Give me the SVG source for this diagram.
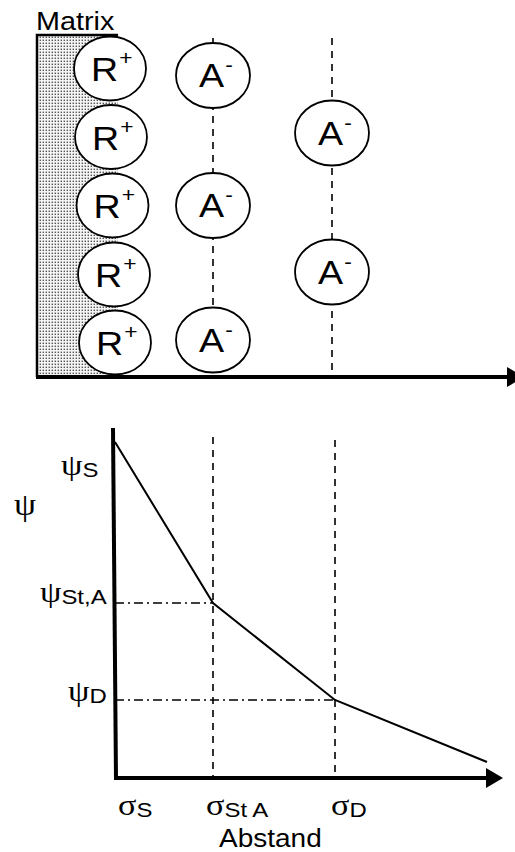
<svg xmlns="http://www.w3.org/2000/svg" width="515" height="852" viewBox="0 0 515 852">
<defs>
<pattern id="dots" width="3" height="3" patternUnits="userSpaceOnUse">
<rect width="3" height="3" fill="#f4f4f4"/>
<rect x="0.6" y="0.6" width="1.4" height="1.4" fill="#555"/>
</pattern>
</defs>
<style>
.t{font-family:"Liberation Sans",Arial,sans-serif;fill:#000}
.g{font-family:"Liberation Serif","DejaVu Serif",serif}
.ion{fill:#fff;stroke:#000;stroke-width:1.8}
.it{font-family:"Liberation Sans",Arial,sans-serif;font-size:33px}
.sup{font-size:20px}
.dash{stroke:#000;stroke-width:1.6;stroke-dasharray:7 6;fill:none}
.dd{stroke:#000;stroke-width:1.4;stroke-dasharray:9 4 2 4;fill:none}
.axis{stroke:#000;stroke-width:4;fill:none}
.curve{stroke:#000;stroke-width:2;fill:none}
</style>
<rect width="515" height="852" fill="#fff"/>

<g id="matrix">
<rect x="37" y="35" width="81" height="342" fill="url(#dots)"/>
<path d="M118 35H37V377" fill="none" stroke="#000" stroke-width="2.5"/>
<text class="t" font-size="25" transform="matrix(1.15 0 0 1 36 30)">Matrix</text>
</g>

<g id="connectors">
<line class="dash" x1="213" y1="38" x2="213" y2="377"/>
<line class="dash" x1="332" y1="38" x2="332" y2="377"/>
<line class="dash" x1="213" y1="437" x2="213" y2="778"/>
<line class="dash" x1="335" y1="440" x2="335" y2="778"/>
<line class="dd" x1="115" y1="603" x2="213" y2="603"/>
<line class="dd" x1="115" y1="700" x2="335" y2="700"/>
</g>

<g id="r1"><ellipse class="ion" cx="110" cy="68.5" rx="36" ry="32"/><text class="it" transform="matrix(1.14 0 0 1 91 81)">R<tspan class="sup" dy="-16" dx="1">+</tspan></text></g>
<g id="r2"><ellipse class="ion" cx="111" cy="137" rx="36" ry="32"/><text class="it" transform="matrix(1.14 0 0 1 92 149.5)">R<tspan class="sup" dy="-16" dx="1">+</tspan></text></g>
<g id="r3"><ellipse class="ion" cx="112.5" cy="205.5" rx="36" ry="32"/><text class="it" transform="matrix(1.14 0 0 1 93.5 218)">R<tspan class="sup" dy="-16" dx="1">+</tspan></text></g>
<g id="r4"><ellipse class="ion" cx="114" cy="274.5" rx="36" ry="32"/><text class="it" transform="matrix(1.14 0 0 1 95 287)">R<tspan class="sup" dy="-16" dx="1">+</tspan></text></g>
<g id="r5"><ellipse class="ion" cx="115" cy="342.5" rx="36" ry="32"/><text class="it" transform="matrix(1.14 0 0 1 96 355)">R<tspan class="sup" dy="-16" dx="1">+</tspan></text></g>

<g id="a1"><ellipse class="ion" cx="213" cy="75.5" rx="37" ry="32.5"/><text class="it" transform="matrix(1.14 0 0 1 199 87)">A<tspan class="sup" dy="-15" dx="1">-</tspan></text></g>
<g id="a2"><ellipse class="ion" cx="213" cy="205.5" rx="37" ry="32.5"/><text class="it" transform="matrix(1.14 0 0 1 199 217)">A<tspan class="sup" dy="-15" dx="1">-</tspan></text></g>
<g id="a3"><ellipse class="ion" cx="213" cy="340" rx="37" ry="32.5"/><text class="it" transform="matrix(1.14 0 0 1 199 351.5)">A<tspan class="sup" dy="-15" dx="1">-</tspan></text></g>
<g id="a4"><ellipse class="ion" cx="332" cy="133" rx="37" ry="32.5"/><text class="it" transform="matrix(1.14 0 0 1 318 144.5)">A<tspan class="sup" dy="-15" dx="1">-</tspan></text></g>
<g id="a5"><ellipse class="ion" cx="332" cy="272" rx="37" ry="32.5"/><text class="it" transform="matrix(1.14 0 0 1 318 283.5)">A<tspan class="sup" dy="-15" dx="1">-</tspan></text></g>

<g id="axis-top">
<line class="axis" x1="36" y1="377" x2="510" y2="377"/>
<polygon points="507,367 524,377 507,387" fill="#000"/>
</g>

<g id="axes-bottom">
<line class="axis" x1="113" y1="428" x2="116" y2="780"/>
<line class="axis" x1="114" y1="778" x2="490" y2="778"/>
<polygon points="486,768 503,778 486,788" fill="#000"/>
</g>

<g id="curve">
<polyline class="curve" points="115,442 213,603 335,700 487,762"/>
</g>

<g id="labels">
<text class="g" font-size="32" transform="matrix(1.1 0 0 1 14 515)">ψ</text>
<text class="t" font-size="21" transform="matrix(1.14 0 0 1 61 475)"><tspan class="g" font-size="30">ψ</tspan><tspan dy="2">S</tspan></text>
<text class="t" font-size="21" transform="matrix(1.14 0 0 1 40 602)"><tspan class="g" font-size="30">ψ</tspan><tspan dy="2">St,A</tspan></text>
<text class="t" font-size="21" transform="matrix(1.14 0 0 1 68 701)"><tspan class="g" font-size="30">ψ</tspan><tspan dy="2">D</tspan></text>
<text class="t" font-size="21" transform="matrix(1.14 0 0 1 118 815)"><tspan class="g" font-size="30">σ</tspan><tspan dy="2">S</tspan></text>
<text class="t" font-size="21" transform="matrix(1.14 0 0 1 206 815)"><tspan class="g" font-size="30">σ</tspan><tspan dy="2">St A</tspan></text>
<text class="t" font-size="21" transform="matrix(1.14 0 0 1 331 815)"><tspan class="g" font-size="30">σ</tspan><tspan dy="2">D</tspan></text>
<text class="t" font-size="25" transform="matrix(1.12 0 0 1 219 847)">Abstand</text>
</g>
</svg>
